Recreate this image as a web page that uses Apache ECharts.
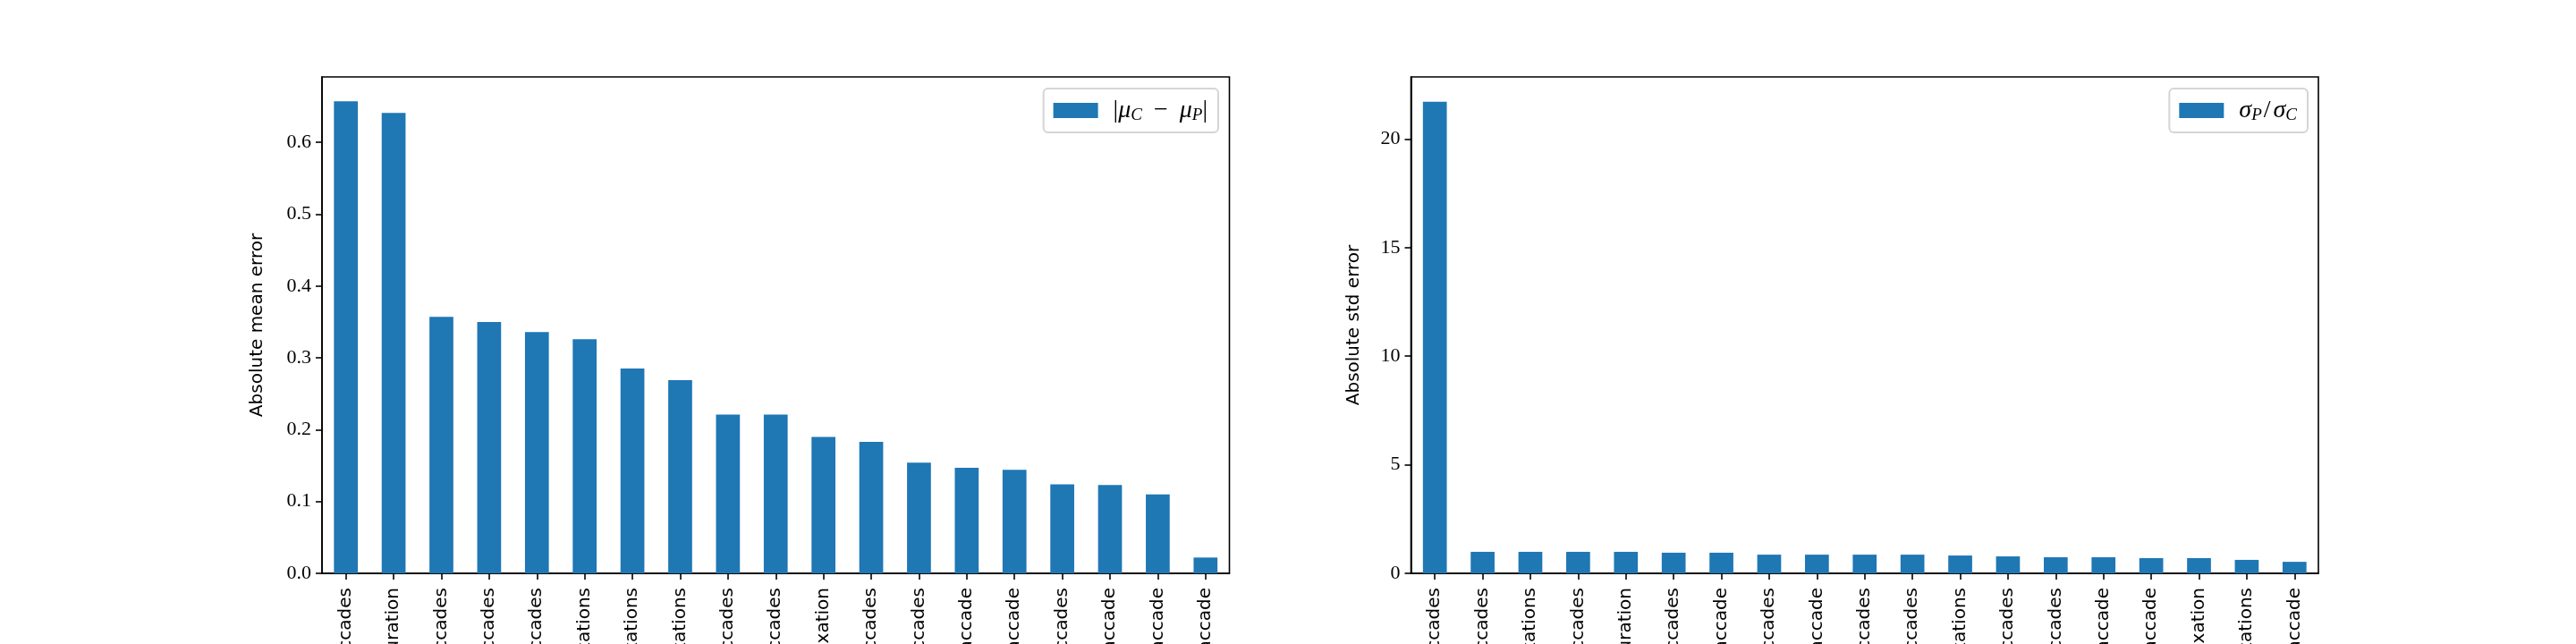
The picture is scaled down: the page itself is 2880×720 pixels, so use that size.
<!DOCTYPE html>
<html>
<head>
<meta charset="utf-8">
<script src="https://cdn.jsdelivr.net/npm/echarts@6/dist/echarts.min.js"></script>
<style>
  html, body { margin: 0; padding: 0; background: #fff; }
  #chart { width: 2880px; height: 720px; }
</style>
</head>
<body>
<div id="chart"></div>
<script>
// features sorted by mean error (left) and by std ratio (right)
const meanLabels = [
  'number of saccades', 'mean fixation duration', 'mean amplitude of saccades',
  'mean duration of saccades', 'mean velocity of saccades', 'number of fixations',
  'mean dispersion of fixations', 'std duration of fixations', 'std amplitude of saccades',
  'std velocity of saccades', 'time to first fixation', 'mean peak velocity of saccades',
  'std peak velocity of saccades', 'mean amplitude per saccade', 'mean duration per saccade',
  'rate of saccades', 'max velocity per saccade', 'max amplitude per saccade',
  'max duration per saccade'
]
const meanValues = [
  0.657, 0.641, 0.357, 0.350, 0.336, 0.326, 0.285, 0.269, 0.221, 0.221,
  0.190, 0.183, 0.154, 0.147, 0.144, 0.124, 0.123, 0.110, 0.022
]
const stdLabels = [
  'number of saccades', 'std amplitude of saccades', 'std duration of fixations',
  'mean amplitude of saccades', 'mean fixation duration', 'mean velocity of saccades',
  'mean amplitude per saccade', 'std velocity of saccades', 'max velocity per saccade',
  'mean duration of saccades', 'rate of saccades', 'number of fixations',
  'mean peak velocity of saccades', 'std peak velocity of saccades', 'mean duration per saccade',
  'max amplitude per saccade', 'time to first fixation', 'mean dispersion of fixations',
  'max duration per saccade'
]
const stdValues = [
  21.72, 0.99, 0.99, 0.99, 0.99, 0.95, 0.95, 0.86, 0.86, 0.86,
  0.86, 0.82, 0.78, 0.74, 0.74, 0.70, 0.70, 0.62, 0.53
]
const meanTicks = [0, 0.1, 0.2, 0.3, 0.4, 0.5, 0.6]
const stdTicks = [0, 5, 10, 15, 20]

const BLUE = '#1f77b4'
const SANS = 'DejaVu Sans'
const SERIF = 'Liberation Serif'

function xAxisFor (idx, labels){
  return {
    type: 'category',
    gridIndex: idx,
    data: labels,
    axisLine: { show: true, lineStyle: { color: '#000', width: 1.6 } },
    axisTick: { show: true, alignWithLabel: true, length: 7, lineStyle: { color: '#000', width: 1.6 } },
    axisLabel: { rotate: 90, interval: 0, margin: 16, fontFamily: SANS, fontSize: 20, color: '#000' }
  }
}

function yAxisFor (idx, name, max, ticks, digits, gap){
  return {
    type: 'value',
    gridIndex: idx,
    min: 0,
    max: max,
    name: name,
    nameLocation: 'middle',
    nameGap: gap,
    nameTextStyle: { fontFamily: SANS, fontSize: 20, color: '#000' },
    splitLine: { show: false },
    axisLine: { show: true, lineStyle: { color: '#000', width: 1.6 } },
    axisTick: { show: true, length: 7, customValues: ticks, lineStyle: { color: '#000', width: 1.6 } },
    axisLabel: {
      customValues: ticks,
      margin: 12,
      fontFamily: SERIF,
      fontSize: 22,
      color: '#000',
      formatter: v => v.toFixed(digits)
    }
  }
}

function legendFor (name, right){
  return {
    data: [name],
    right: right,
    top: 99,
    orient: 'vertical',
    icon: 'rect',
    itemWidth: 50,
    itemHeight: 17,
    padding: [10, 12, 10, 11],
    borderColor: '#d5d5d5',
    borderWidth: 2,
    borderRadius: 5,
    backgroundColor: '#fff',
    selectedMode: false,
    formatter: n => n,
    textStyle: {
      padding: [0, 0, 0, 12],
      rich: {
        m: { fontFamily: SERIF, fontStyle: 'italic', fontSize: 28, color: '#000', lineHeight: 25 },
        s: { fontFamily: SERIF, fontStyle: 'italic', fontSize: 19, color: '#000', lineHeight: 25, padding: [10, 0, 0, 0] },
        n: { fontFamily: SERIF, fontSize: 28, color: '#000', lineHeight: 25 },
        op: { fontFamily: SERIF, fontSize: 28, color: '#000', lineHeight: 25, padding: [0, 6, 0, 6] },
        sl: { fontFamily: SERIF, fontSize: 28, color: '#000', lineHeight: 25, padding: [0, 3, 0, 2] }
      }
    }
  }
}

const MEAN_NAME = '{n||}{m|μ}{s|C}{op| − }{m|μ}{s|P}{n||}'
const STD_NAME = '{m|σ}{s|P}{sl|/}{m|σ}{s|C}'

const chart = echarts.init(document.getElementById('chart'), null, { renderer: 'canvas' })
chart.setOption({
  animation: false,
  backgroundColor: '#fff',
  grid: [
    { left: 360, right: 1505.5, top: 86, bottom: 79, containLabel: false, outerBoundsMode: 'none', show: true, borderColor: '#000', borderWidth: 1.6, backgroundColor: 'transparent' },
    { left: 1577.5, right: 288, top: 86, bottom: 79, containLabel: false, outerBoundsMode: 'none', show: true, borderColor: '#000', borderWidth: 1.6, backgroundColor: 'transparent' }
  ],
  legend: [
    legendFor(MEAN_NAME, 1518),
    legendFor(STD_NAME, 300)
  ],
  xAxis: [xAxisFor(0, meanLabels), xAxisFor(1, stdLabels)],
  yAxis: [
    yAxisFor(0, 'Absolute mean error', 0.691, meanTicks, 1, 62),
    yAxisFor(1, 'Absolute std error', 22.86, stdTicks, 0, 54)
  ],
  series: [
    { name: MEAN_NAME, type: 'bar', xAxisIndex: 0, yAxisIndex: 0, data: meanValues, barWidth: '50%', itemStyle: { color: BLUE } },
    { name: STD_NAME, type: 'bar', xAxisIndex: 1, yAxisIndex: 1, data: stdValues, barWidth: '50%', itemStyle: { color: BLUE } }
  ]
})
</script>
</body>
</html>
